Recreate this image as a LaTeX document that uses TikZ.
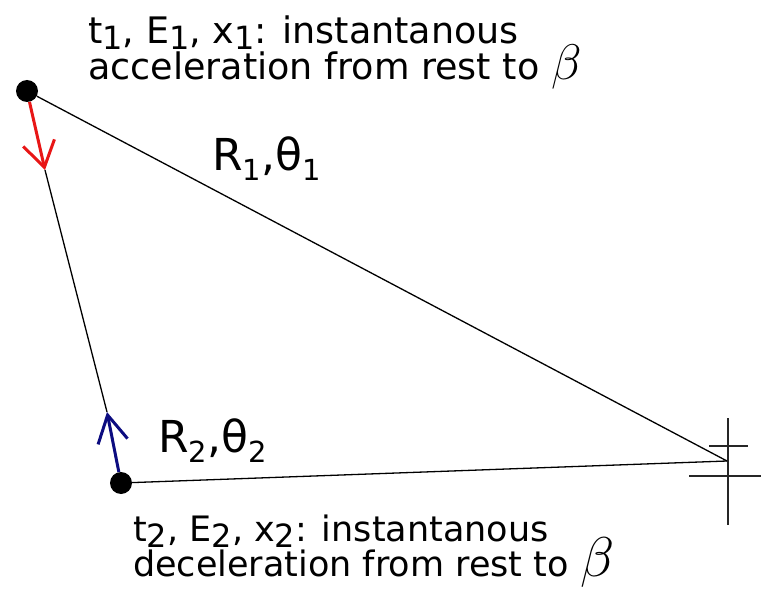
\RequirePackage{fix-cm}
\documentclass[tikz,border=0pt]{standalone}
\usepackage{fontspec}
\setmainfont{DejaVu Sans}
\usetikzlibrary{arrows.meta}
\definecolor{accred}{RGB}{232,22,22}
\definecolor{decblue}{RGB}{12,12,128}
\newcommand{\lo}[1]{\raisebox{-6pt}{\fontsize{32}{32}\selectfont #1}}
\newcommand{\rsub}[1]{\raisebox{-10pt}{\fontsize{29}{29}\selectfont #1}}
\newcommand{\bet}[1]{\smash{\fontsize{#1}{#1}\selectfont$\beta$}}

\begin{document}
\begin{tikzpicture}[
  x=1pt, y=-1pt,
  mass/.style={circle, fill=black, inner sep=0pt, minimum size=22pt},
  note/.style={font=\fontsize{35}{35}\selectfont, align=left, inner sep=0pt},
  lab/.style={font=\fontsize{44}{44}\selectfont, inner sep=0pt},
  traj/.style={draw=black, line width=1.3pt},
  acc/.style={-{Straight Barb[length=25pt, width=32pt]}, draw=accred, line width=3pt},
  dec/.style={-{Straight Barb[length=27pt, width=30pt]}, draw=decblue, line width=3pt},
  arm/.style={draw=black!85, line width=1.2pt}]
  \useasboundingbox (0,0) rectangle (761,599);
  \node[mass] (m1) at (27,91) {};
  \node[mass] (m2) at (121,483) {};
  \coordinate (k1) at (45,170);
  \coordinate (k2) at (107,412);
  \coordinate (obs) at (727,461);
  % observer mark
  \draw[arm] (728,418) -- (728,525);
  \draw[arm] (709,446) -- (748,446);
  \draw[arm] (689,476) -- (761,476);
  \draw[traj] (m1) -- (obs);
  \draw[traj] (m2) -- (obs);
  \draw[traj] (k1) -- (k2);
  \draw[acc] (m1) -- (k1);
  \draw[dec] (m2) -- (k2);
  \node[lab, anchor=base west] (r1) at (212,171) {R\rsub{1},θ\rsub{1}};
  \node[lab, anchor=base west] (r2) at (158,452) {R\rsub{2},θ\rsub{2}};
  \node[note, font=\fontsize{36.5}{35.5}\selectfont, anchor=north west] (top) at (88,16)
    {t\lo{1}, E\lo{1}, x\lo{1}: instantanous\\acceleration from rest to \bet{50}};
  \node[note, anchor=north west] (bot) at (133,515)
    {t\lo{2}, E\lo{2}, x\lo{2}: instantanous\\deceleration from rest to \bet{56}};
\end{tikzpicture}
\end{document}
